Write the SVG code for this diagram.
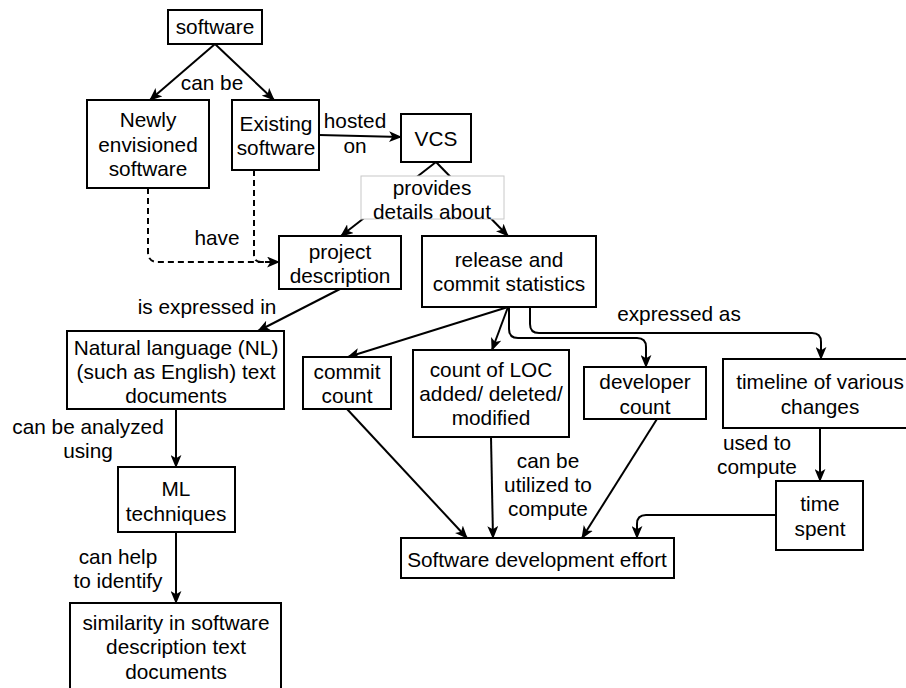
<svg xmlns="http://www.w3.org/2000/svg" width="906" height="688" viewBox="0 0 906 688">
<style>
.n rect{fill:#fff;stroke:#000;stroke-width:2}
text{font-family:"Liberation Sans",Arial,sans-serif;font-size:20.8px;fill:#000;text-anchor:middle}
.c path{fill:none;stroke:#000;stroke-width:2}
.c .d{stroke-dasharray:6 4}
</style>
<defs>
<marker id="a" markerUnits="userSpaceOnUse" viewBox="0 0 12 10" refX="11" refY="5" markerWidth="13" markerHeight="11" orient="auto">
<path d="M0,0 L12,5 L0,10 L3,5 Z" fill="#000"/>
</marker>
</defs>
<rect width="906" height="688" fill="#fff"/>
<g class="c">
<path d="M215,44 L150,100" marker-end="url(#a)"/>
<path d="M215,44 L274,100" marker-end="url(#a)"/>
<path d="M319,135 L401,137" marker-end="url(#a)"/>
<path d="M436,162 L341,236" marker-end="url(#a)"/>
<path d="M436,162 L508,236" marker-end="url(#a)"/>
<path class="d" d="M148,188 L148,252 Q148,262 158,262 L279,262" marker-end="url(#a)"/>
<path class="d" d="M254,170 L254,255 Q254,262 261,262 L268,262"/>
<path d="M340,289 L258,331" marker-end="url(#a)"/>
<path d="M176,409 L176,467" marker-end="url(#a)"/>
<path d="M176,532 L176,603" marker-end="url(#a)"/>
<path d="M508,307 L348,357" marker-end="url(#a)"/>
<path d="M508,307 L492,350" marker-end="url(#a)"/>
<path d="M509,307 L509,329 Q509,338 518,338 L637,338 Q646,338 646,347 L646,367" marker-end="url(#a)"/>
<path d="M530,307 L530,324 Q530,333 539,333 L812,333 Q821,333 821,342 L821,359" marker-end="url(#a)"/>
<path d="M347,409 L467,538" marker-end="url(#a)"/>
<path d="M491,437 L493,538" marker-end="url(#a)"/>
<path d="M657,419 L582,538" marker-end="url(#a)"/>
<path d="M820,428 L820,481" marker-end="url(#a)"/>
<path d="M776,515 L646,515 Q637,515 637,524 L637,538" marker-end="url(#a)"/>
</g>
<g id="labels">
<text x="212" y="90">can be</text>
<text x="355" y="128">hosted</text>
<text x="355" y="153">on</text>
<rect x="361" y="176" width="143" height="43" fill="#fff" stroke="#c8c8c8" stroke-width="1"/>
<text x="432" y="195">provides</text>
<text x="432" y="219">details about</text>
<text x="217" y="245">have</text>
<text x="207" y="314">is expressed in</text>
<text x="88" y="434">can be analyzed</text>
<text x="88" y="458">using</text>
<text x="118" y="564">can help</text>
<text x="118" y="588">to identify</text>
<text x="679" y="321">expressed as</text>
<text x="548" y="468">can be</text>
<text x="548" y="492">utilized to</text>
<text x="548" y="516">compute</text>
<text x="757" y="450">used to</text>
<text x="757" y="474">compute</text>
</g>
<g id="software" class="n"><rect x="168" y="10" width="94" height="34"/><text x="215" y="34">software</text></g>
<g id="newly" class="n"><rect x="87" y="100" width="122" height="88"/><text x="148" y="127">Newly</text><text x="148" y="152">envisioned</text><text x="148" y="176">software</text></g>
<g id="existing" class="n"><rect x="232" y="100" width="87" height="70"/><text x="276" y="131">Existing</text><text x="276" y="155">software</text></g>
<g id="vcs" class="n"><rect x="401" y="114" width="70" height="48"/><text x="436" y="146">VCS</text></g>
<g id="project" class="n"><rect x="279" y="236" width="122" height="53"/><text x="340" y="259">project</text><text x="340" y="283">description</text></g>
<g id="release" class="n"><rect x="422" y="236" width="174" height="71"/><text x="509" y="267">release and</text><text x="509" y="291">commit statistics</text></g>
<g id="nl" class="n"><rect x="67" y="331" width="217" height="78"/><text x="176" y="355">Natural language (NL)</text><text x="176" y="379">(such as English) text</text><text x="176" y="403">documents</text></g>
<g id="ml" class="n"><rect x="118" y="467" width="117" height="65"/><text x="176" y="496">ML</text><text x="176" y="521">techniques</text></g>
<g id="similarity" class="n"><rect x="70" y="603" width="211" height="100"/><text x="176" y="630">similarity in software</text><text x="176" y="654">description text</text><text x="176" y="679">documents</text></g>
<g id="commit" class="n"><rect x="303" y="357" width="88" height="52"/><text x="347" y="379">commit</text><text x="347" y="403">count</text></g>
<g id="loc" class="n"><rect x="413" y="350" width="156" height="87"/><text x="491" y="377">count of LOC</text><text x="491" y="401">added/ deleted/</text><text x="491" y="425">modified</text></g>
<g id="developer" class="n"><rect x="584" y="367" width="122" height="52"/><text x="645" y="389">developer</text><text x="645" y="414">count</text></g>
<g id="timeline" class="n"><rect x="723" y="359" width="190" height="69"/><text x="820" y="389">timeline of various</text><text x="820" y="414">changes</text></g>
<g id="time" class="n"><rect x="776" y="481" width="87" height="69"/><text x="820" y="511">time</text><text x="820" y="536">spent</text></g>
<g id="effort" class="n"><rect x="401" y="538" width="273" height="40"/><text x="537" y="567">Software development effort</text></g>
</svg>
